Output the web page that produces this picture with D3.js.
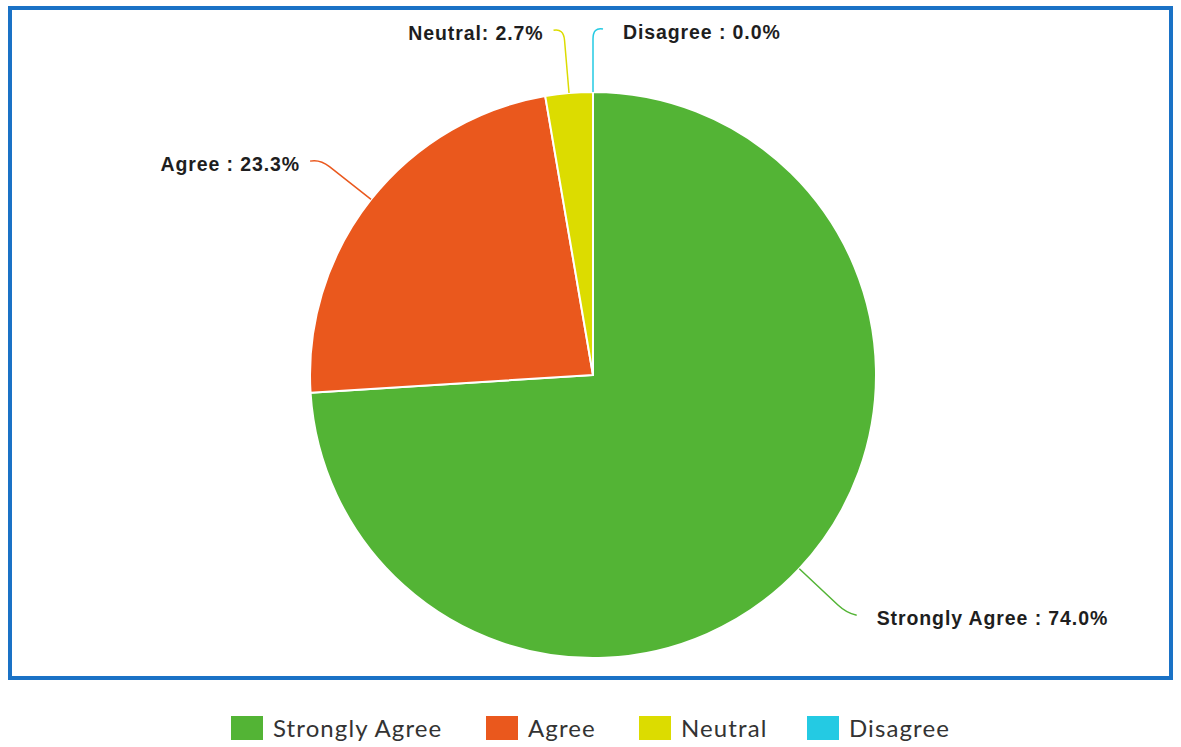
<!DOCTYPE html>
<html>
<head>
<meta charset="utf-8">
<script src="https://cdn.jsdelivr.net/npm/d3@7"></script>
<style>
    body { margin: 0; background: #fff; }
    svg { display: block; }
</style>
</head>
<body>
<svg id="chart" width="1181" height="747"></svg>
<script>
// data
const categories = ["Strongly Agree", "Agree", "Neutral", "Disagree"];
const values = [74.0, 23.3, 2.7, 0.0];
const labelTexts = ["Strongly Agree : 74.0%", "Agree : 23.3%", "Neutral: 2.7%", "Disagree : 0.0%"];
const colors = ["#53b435", "#ea581d", "#dcdc00", "#24cae3"];

class PieChart {

    constructor(svg_element_id) {
        this.svg = d3.select('#' + svg_element_id);
        this.width = +this.svg.attr("width");
        this.height = +this.svg.attr("height");
    }

    draw() {
        const svg = this.svg;

        // frame
        svg.append("rect")
            .attr("x", 10)
            .attr("y", 8)
            .attr("width", 1161)
            .attr("height", 670)
            .attr("fill", "none")
            .attr("stroke", "#1a72c6")
            .attr("stroke-width", 4);

        const cx = 593, cy = 375, radius = 283;

        const data = categories.map((c, i) => ({ name: c, value: values[i], label: labelTexts[i], color: colors[i] }));

        const pie = d3.pie()
            .sort(null)
            .value(d => d.value);

        const arc = d3.arc()
            .innerRadius(0)
            .outerRadius(radius);

        const arcs = pie(data);

        const g = svg.append("g")
            .attr("transform", "translate(" + cx + "," + cy + ")");

        g.selectAll("path.slice")
            .data(arcs)
            .enter().append("path")
            .attr("class", "slice")
            .attr("d", arc)
            .attr("fill", d => d.data.color)
            .attr("stroke", "#fff")
            .attr("stroke-width", 2)
            .attr("stroke-linejoin", "round");

        // labels with curved connectors
        const labelDist = 65;

        arcs.forEach(d => {
            const mid = (d.startAngle + d.endAngle) / 2;
            const sx = Math.sin(mid), sy = -Math.cos(mid);
            const side = sx < -0.01 ? -1 : 1;
            const a = [sx * radius, sy * radius];
            const b = [sx * (radius + labelDist), sy * (radius + labelDist)];
            const knee = [sx * (radius + labelDist - 12), sy * (radius + labelDist - 12)];
            const end = [b[0] + side * 10, b[1] + 2];

            const p = d3.path();
            p.moveTo(a[0], a[1]);
            p.lineTo(knee[0], knee[1]);
            p.quadraticCurveTo(b[0], b[1], end[0], end[1]);

            g.append("path")
                .attr("d", p.toString())
                .attr("fill", "none")
                .attr("stroke", d.data.color)
                .attr("stroke-width", 1.5);

            g.append("text")
                .attr("x", end[0] + (side < 0 ? -10 : 20))
                .attr("y", b[1] + 12)
                .attr("text-anchor", side < 0 ? "end" : "start")
                .style("font-family", "'Liberation Sans', Arial, sans-serif")
                .style("font-weight", "bold")
                .style("font-size", "19.5px")
                .style("letter-spacing", "0.9px")
                .style("fill", "#1e1e1e")
                .text(d.data.label);
        });

        // legend
        const legendX = [231, 486, 639, 807];
        const legend = svg.append("g").attr("class", "legend");

        const item = legend.selectAll("g")
            .data(data)
            .enter().append("g")
            .attr("transform", (d, i) => "translate(" + legendX[i] + ",716)");

        item.append("rect")
            .attr("width", 32)
            .attr("height", 24)
            .attr("fill", d => d.color);

        item.append("text")
            .attr("x", 42)
            .attr("y", 21)
            .style("font-family", "Lato, 'Open Sans', sans-serif")
            .style("font-size", "24px")
            .style("letter-spacing", "1.1px")
            .style("fill", "#333")
            .text(d => d.name);
    }
}

function whenDocumentLoaded(action) {
    if (document.readyState === "loading") {
        document.addEventListener("DOMContentLoaded", action);
    } else {
        action();
    }
}

whenDocumentLoaded(() => {
    const chart = new PieChart('chart');
    chart.draw();
});
</script>
</body>
</html>
